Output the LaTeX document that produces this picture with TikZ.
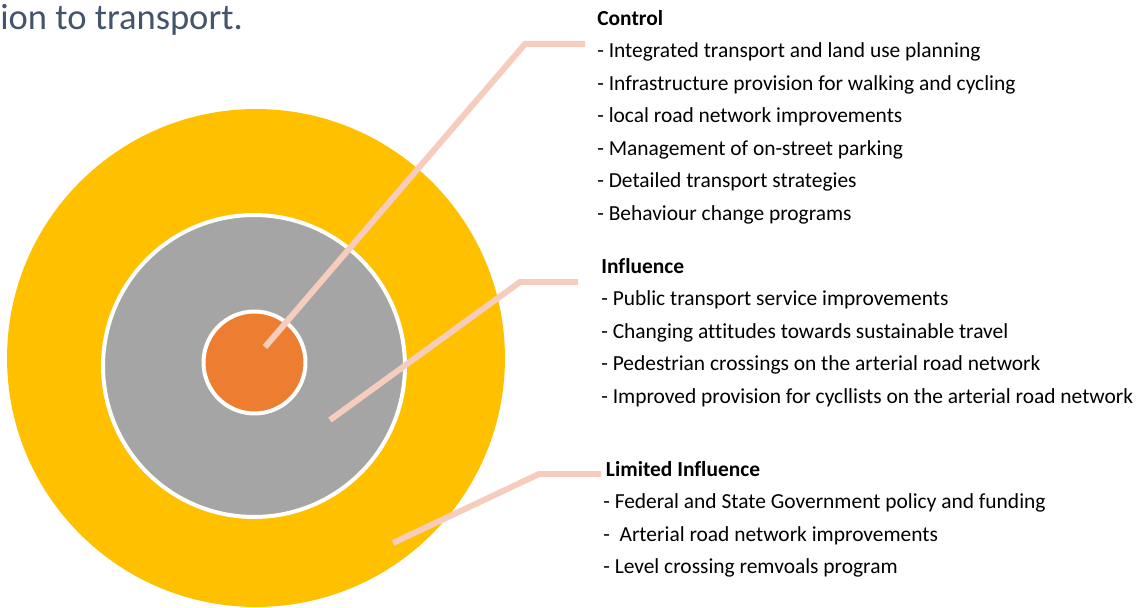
\documentclass[tikz,border=0pt]{standalone}
\usepackage{fontspec}
\setmainfont[Ligatures=NoCommon]{Carlito}
\usetikzlibrary{positioning}
\definecolor{RingYellow}{RGB}{255,192,0}
\definecolor{RingGrey}{RGB}{165,165,165}
\definecolor{CoreOrange}{RGB}{237,125,49}
\definecolor{LeaderPeach}{RGB}{246,204,188}
\definecolor{TitleSlate}{RGB}{68,84,106}
\tikzset{
  ring/.style={circle, inner sep=0pt, outer sep=0pt},
  leader/.style={draw=LeaderPeach, line width=0.12cm},
  listblock/.style={align=left, anchor=north west, inner sep=0pt,
    font=\fontsize{12.2}{18.5}\selectfont},
  titletext/.style={anchor=base west, inner sep=0pt, text=TitleSlate,
    font=\fontsize{20.8}{24}\selectfont}
}
\begin{document}
\begin{tikzpicture}[x=0.02cm, y=-0.02cm]
  \useasboundingbox (0,0) rectangle (1137,608);
  \node[titletext] (title) at (0,30) {ion to transport.};
  % the three rings, outer first
  \node[ring, fill=RingYellow, minimum size=9.96cm] (limited) at (256,358) {};
  \node[ring, fill=RingGrey, draw=white, line width=0.08cm, minimum size=6.04cm] (influence) at (254,366) {};
  \node[ring, fill=CoreOrange, draw=white, line width=0.08cm, minimum size=2.04cm] (control) at (254.5,362.5) {};
  % text blocks
  \node[listblock] (ctrltext) at (597,10) {\textbf{Control}\\
    - Integrated transport and land use planning\\
    - Infrastructure provision for walking and cycling\\
    - local road network improvements\\
    - Management of on-street parking\\
    - Detailed transport strategies\\
    - Behaviour change programs};
  \node[listblock] (inflText) at (601,258) {\textbf{Influence}\\
    - Public transport service improvements\\
    - Changing attitudes towards sustainable travel\\
    - Pedestrian crossings on the arterial road network\\
    - Improved provision for cycllists on the arterial road network};
  \node[listblock] (limText) at (603,461) {\hspace*{1.5pt}\textbf{Limited Influence}\\
    - Federal and State Government policy and funding\\
    - \ Arterial road network improvements\\
    - Level crossing remvoals program};
  % leader lines
  \coordinate (ctrlpt) at (265,347);
  \coordinate (ctrlbend) at (525,44);
  \coordinate (ctrlend) at (585,44);
  \coordinate (inflpt) at (330,420);
  \coordinate (inflbend) at (520,282);
  \coordinate (inflend) at (578,282);
  \coordinate (limpt) at (393,543);
  \coordinate (limbend) at (539,474);
  \coordinate (limend) at (601,474);
  \draw[leader] (ctrlpt) -- (ctrlbend) -- (ctrlend);
  \draw[leader] (inflpt) -- (inflbend) -- (inflend);
  \draw[leader] (limpt) -- (limbend) -- (limend);
\end{tikzpicture}
\end{document}
